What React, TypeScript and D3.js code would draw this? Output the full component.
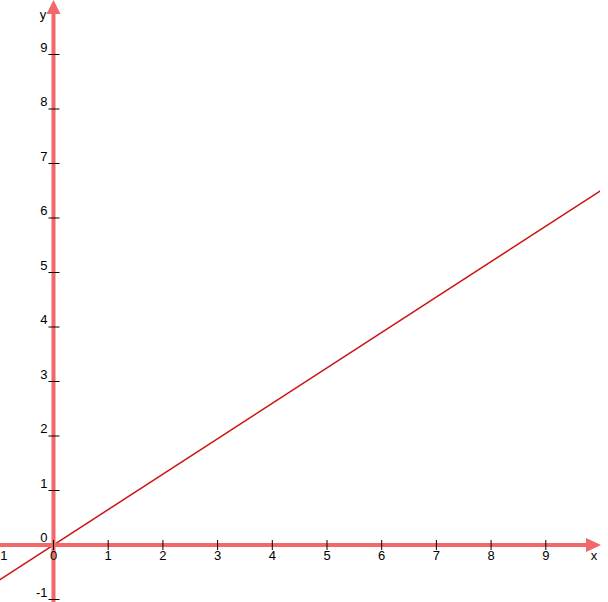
import { useEffect, useRef } from "react";
import * as d3 from "d3";

const xTicks = [-1, 0, 1, 2, 3, 4, 5, 6, 7, 8, 9];
const yTicks = [-1, 0, 1, 2, 3, 4, 5, 6, 7, 8, 9];
// line endpoints (y = 0.65x)
const lineX = [-1, 11];
const lineY = [-0.65, 7.15];

const AXIS = "#f26868";
const LINE = "#cc1111";

export default function App() {
  const svgRef = useRef<SVGSVGElement>(null);

  useEffect(() => {
    if (!svgRef.current) return;
    const svg = d3.select(svgRef.current);
    svg.selectAll("*").remove();

    const width = 608;
    const height = 602;

    const x = d3.scaleLinear().domain([0, 9]).range([53.5, 53.5 + 9 * 54.7]);
    const y = d3.scaleLinear().domain([0, 9]).range([545, 545 - 9 * 54.5]);

    svg.append("rect").attr("width", width).attr("height", height).attr("fill", "#fff");

    const defs = svg.append("defs");
    defs
      .append("clipPath")
      .attr("id", "plot")
      .append("rect")
      .attr("width", 600)
      .attr("height", height);

    // the function line
    const pts = lineX.map((d, i) => [d, lineY[i]] as [number, number]);
    const line = d3
      .line<[number, number]>()
      .x((d) => x(d[0]))
      .y((d) => y(d[1]));
    svg
      .append("path")
      .datum(pts)
      .attr("clip-path", "url(#plot)")
      .attr("fill", "none")
      .attr("stroke", LINE)
      .attr("stroke-width", 1.5)
      .attr("d", line);

    // axes
    svg
      .append("line")
      .attr("x1", 0)
      .attr("x2", 590)
      .attr("y1", y(0))
      .attr("y2", y(0))
      .attr("stroke", AXIS)
      .attr("stroke-width", 4);
    svg
      .append("line")
      .attr("x1", x(0))
      .attr("x2", x(0))
      .attr("y1", height)
      .attr("y2", 10)
      .attr("stroke", AXIS)
      .attr("stroke-width", 4);

    // arrow heads
    svg
      .append("path")
      .attr("d", `M${601},${y(0)} L${586},${y(0) - 7} L${586},${y(0) + 7} Z`)
      .attr("fill", AXIS);
    svg
      .append("path")
      .attr("d", `M${x(0)},0 L${x(0) - 7},14 L${x(0) + 7},14 Z`)
      .attr("fill", AXIS);

    const font = "'Liberation Sans', Arial, sans-serif";
    const fs = 13;

    // x ticks + labels
    const xg = svg.append("g");
    xg.selectAll("line")
      .data(xTicks)
      .enter()
      .append("line")
      .attr("x1", (d) => x(d))
      .attr("x2", (d) => x(d))
      .attr("y1", y(0) - 5)
      .attr("y2", y(0) + 5)
      .attr("stroke", "#000")
      .attr("stroke-width", 1);
    xg.selectAll("text")
      .data(xTicks)
      .enter()
      .append("text")
      .attr("x", (d) => x(d))
      .attr("dx", (d) => (d < 0 ? 3 : 0))
      .attr("y", y(0) + 15)
      .attr("text-anchor", "middle")
      .attr("font-family", font)
      .attr("font-size", fs)
      .attr("fill", "#000")
      .text((d) => `${d}`);

    // y ticks + labels
    const yg = svg.append("g");
    yg.selectAll("line")
      .data(yTicks.filter((d) => d !== 0))
      .enter()
      .append("line")
      .attr("x1", x(0) - 5)
      .attr("x2", x(0) + 6)
      .attr("y1", (d) => y(d))
      .attr("y2", (d) => y(d))
      .attr("stroke", "#000")
      .attr("stroke-width", 1);
    yg.selectAll("text")
      .data(yTicks)
      .enter()
      .append("text")
      .attr("x", x(0) - 6)
      .attr("y", (d) => y(d) - 3)
      .attr("text-anchor", "end")
      .attr("font-family", font)
      .attr("font-size", fs)
      .attr("fill", "#000")
      .text((d) => `${d}`);

    // axis names
    svg
      .append("text")
      .attr("x", 594)
      .attr("y", 560)
      .attr("text-anchor", "middle")
      .attr("font-family", font)
      .attr("font-size", fs)
      .text("x");
    svg
      .append("text")
      .attr("x", 43)
      .attr("y", 19)
      .attr("text-anchor", "middle")
      .attr("font-family", font)
      .attr("font-size", fs)
      .text("y");
  }, []);

  return (
    <svg
      ref={svgRef}
      width={608}
      height={602}
      style={{ position: "absolute", left: 0, top: 0, display: "block" }}
    />
  );
}
